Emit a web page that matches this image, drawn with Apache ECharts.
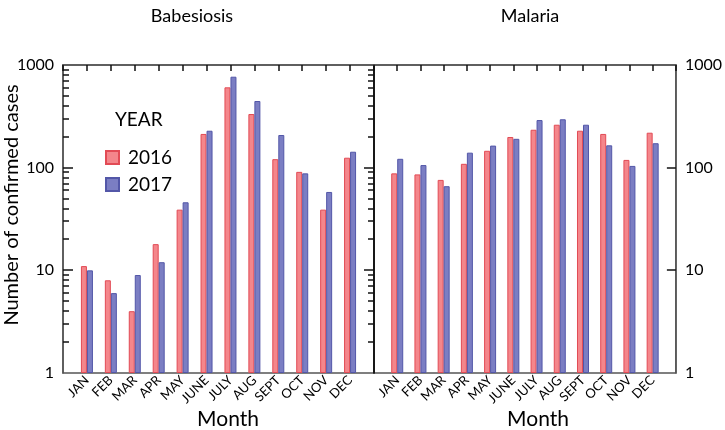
<!DOCTYPE html>
<html>
<head>
<meta charset="utf-8">
<script src="https://cdn.jsdelivr.net/npm/echarts@6/dist/echarts.min.js"></script>
<style>
html,body{margin:0;padding:0;background:#fff;}
#c{width:725px;height:430px;}
</style>
</head>
<body>
<div id="c"></div>
<script>
const months = ['JAN','FEB','MAR','APR','MAY','JUNE','JULY','AUG','SEPT','OCT','NOV','DEC'];
const babesiosis2016 = [11, 8, 4, 18, 39, 213, 606, 333, 121, 91, 39, 125];
const babesiosis2017 = [10, 6, 9, 12, 46, 229, 769, 446, 208, 88, 58, 143];
const malaria2016 = [88, 86, 76, 109, 146, 199, 234, 262, 229, 213, 119, 219];
const malaria2017 = [122, 106, 66, 140, 164, 191, 291, 296, 262, 165, 104, 173];
const yearNames = ['2016', '2017'];
const panelTitles = ['Babesiosis', 'Malaria'];
const majorTicks = [10, 100];
const minorTicks = [2,3,4,5,6,7,8,9,20,30,40,50,60,70,80,90,200,300,400,500,600,700,800,900];

const FONT = 'Lato';
const RED = '#F4868B', RED_B = '#E24B55';
const BLUE = '#7B7EC3', BLUE_B = '#5357A8';
const TICK = '#111';
const TW = 1.5;
const cats = [''].concat(months, ['']);
const pad = a => [null].concat(a, [null]);

const chart = echarts.init(document.getElementById('c'), null, {renderer: 'canvas'});

function xBottom(gi) {
  return {
    type: 'category', gridIndex: gi, data: cats, boundaryGap: false, position: 'bottom',
    axisLine: {show: false}, axisTick: {show: false},
    axisLabel: {interval: 0, rotate: 45, fontSize: 13, color: '#000', fontFamily: FONT, margin: 5}
  };
}
function xTop(gi) {
  return {
    type: 'category', gridIndex: gi, data: cats, boundaryGap: false, position: 'top',
    axisLine: {show: true, lineStyle: {color: '#555', width: 1.5}},
    axisTick: {show: true, inside: true, length: 6, interval: 0, lineStyle: {color: TICK, width: TW}},
    axisLabel: {show: false}
  };
}
function yLog(gi, pos, showLabel, lineColor) {
  return {
    type: 'log', logBase: 10, gridIndex: gi, min: 1, max: 1000, position: pos,
    splitLine: {show: false},
    axisLine: {show: true, lineStyle: {color: lineColor, width: 1.5}},
    axisTick: {show: false},
    axisLabel: {show: showLabel, fontSize: 16, color: '#000', fontFamily: FONT, margin: 9, formatter: v => String(v)}
  };
}
function bar(name, data, xi, yi, fill, border) {
  return {
    name: name, type: 'bar', xAxisIndex: xi, yAxisIndex: yi, data: pad(data),
    barWidth: 6, barGap: '0%',
    itemStyle: {color: fill, borderColor: border, borderWidth: 1}
  };
}
// tick marks along the y edges, positioned through the log axis
function tickSeries(xi, yi, values, len, leftSide, rightSide) {
  return {
    type: 'custom', xAxisIndex: xi, yAxisIndex: yi, silent: true, z: 10, clip: false,
    data: values.map(v => [0, v]),
    renderItem: function (params, api) {
      const cs = params.coordSys;
      const y = Math.round(api.coord([0, api.value(1)])[1]);
      const st = {stroke: TICK, lineWidth: TW};
      const ch = [];
      if (leftSide) ch.push({type: 'line', shape: {x1: cs.x, y1: y, x2: cs.x + len, y2: y}, style: st});
      if (rightSide) ch.push({type: 'line', shape: {x1: cs.x + cs.width - len, y1: y, x2: cs.x + cs.width, y2: y}, style: st});
      return {type: 'group', children: ch};
    }
  };
}

const option = {
  animation: false,
  textStyle: {fontFamily: FONT},
  grid: [
    {left: 63, width: 311, top: 65, height: 308, show: true, borderColor: '#555', borderWidth: 1.5, backgroundColor: 'transparent'},
    {left: 374, width: 310, top: 65, height: 308, show: true, borderColor: '#555', borderWidth: 1.5, backgroundColor: 'transparent'}
  ],
  xAxis: [xBottom(0), xTop(0), xBottom(1), xTop(1)],
  yAxis: [
    yLog(0, 'left', true, '#555'),
    yLog(0, 'right', false, '#000'),
    yLog(1, 'right', true, '#555')
  ],
  legend: {
    data: yearNames, orient: 'vertical', left: 100, top: 143, itemWidth: 13, itemHeight: 13, itemGap: 8,
    icon: 'rect', selectedMode: false,
    textStyle: {fontSize: 19, color: '#000', fontFamily: FONT, padding: [0, 0, 0, 4]}
  },
  graphic: [
    {type: 'text', left: 115, top: 110, style: {text: 'YEAR', font: '19px Lato', fill: '#000'}},
    {type: 'text', x: 192, y: 16, style: {text: panelTitles[0], font: '18px Lato', fill: '#000', align: 'center', verticalAlign: 'middle'}},
    {type: 'text', x: 530, y: 16, style: {text: panelTitles[1], font: '18px Lato', fill: '#000', align: 'center', verticalAlign: 'middle'}},
    {type: 'text', x: 228, y: 419, style: {text: 'Month', font: '21px Lato', fill: '#000', align: 'center', verticalAlign: 'middle'}},
    {type: 'text', x: 538, y: 419, style: {text: 'Month', font: '21px Lato', fill: '#000', align: 'center', verticalAlign: 'middle'}},
    {type: 'text', x: 12, y: 205, rotation: Math.PI / 2, style: {text: 'Number of confirmed cases', font: '20px Lato', fill: '#000', align: 'center', verticalAlign: 'middle'}}
  ],
  series: [
    bar(yearNames[0], babesiosis2016, 0, 0, RED, RED_B),
    bar(yearNames[1], babesiosis2017, 0, 0, BLUE, BLUE_B),
    bar(yearNames[0], malaria2016, 2, 2, RED, RED_B),
    bar(yearNames[1], malaria2017, 2, 2, BLUE, BLUE_B),
    tickSeries(0, 0, minorTicks, 6, true, true),
    tickSeries(0, 0, majorTicks, 10, true, true),
    tickSeries(2, 2, majorTicks, 9, false, true)
  ]
};
chart.setOption(option);
</script>
</body>
</html>
